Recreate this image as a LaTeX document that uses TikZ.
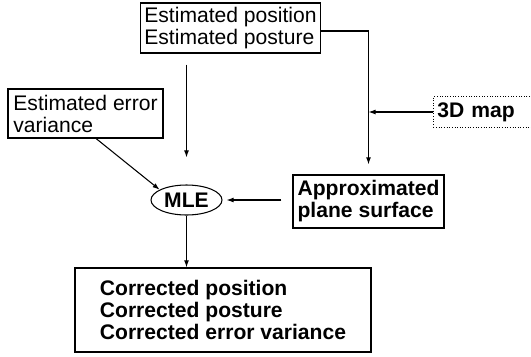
\documentclass[tikz,border=0pt]{standalone}
\usepackage{fontspec}
\setmainfont{Liberation Sans}
\usetikzlibrary{arrows.meta,shapes.geometric}
\tikzset{
  txt/.style={font=\fontsize{12}{12.5}\selectfont,align=left},
  databox/.style={txt,draw,line width=0.7pt,inner sep=2pt},
  mapbox/.style={txt,font=\fontsize{12}{12.5}\selectfont\bfseries,draw,densely dotted,line width=0.5pt,inner xsep=0.08cm},
  estbox/.style={txt,font=\fontsize{12}{12.5}\selectfont\bfseries,draw,ellipse,line width=0.6pt,inner sep=0pt},
  flow/.style={-{Latex[length=4pt,width=2.8pt]},line width=0.6pt}
}

\begin{document}
\begin{tikzpicture}
\useasboundingbox (0,0) rectangle (10.62,-7.12);

% inputs
\node[databox,minimum width=3.54cm,minimum height=1.0cm] (pose) at (4.61,-0.56)
  {Estimated position\\Estimated posture};
\node[databox,minimum width=3.1cm,minimum height=0.98cm] (errvar) at (1.71,-2.27)
  {Estimated error\\variance};
\node[mapbox,anchor=west,text width=2.0cm,minimum height=0.6cm] (map) at (8.66,-2.24) {3D map};

% processing
\node[databox,font=\fontsize{12}{12.5}\selectfont\bfseries,minimum width=3.02cm,minimum height=1.06cm] (plane) at (7.37,-4.03)
  {Approximated\\plane surface};
\node[estbox,minimum width=1.42cm,minimum height=0.6cm] (mle) at (3.73,-4.0) {MLE};

% result
\node[databox,font=\fontsize{12}{12.5}\selectfont\bfseries,minimum width=5.92cm,minimum height=1.68cm] (out) at (4.46,-6.2)
  {Corrected position\\Corrected posture\\Corrected error variance};

% connectors
\draw[flow,shorten >=0.2cm] ([yshift=-0.06cm]pose.east) -| (plane.north);
\draw[flow] (map.west) -- (map.west -| plane.north);
\draw[flow,shorten <=0.22cm,shorten >=0.54cm] (pose.south -| mle.north) -- (mle.north);
\draw[flow] (errvar.-67) -- (mle.159);
\draw[flow,shorten <=0.22cm,shorten >=0.08cm] (mle.east -| plane.west) -- (mle.east);
\draw[flow] (mle.south) -- (mle.south |- out.north);
\end{tikzpicture}
\end{document}
